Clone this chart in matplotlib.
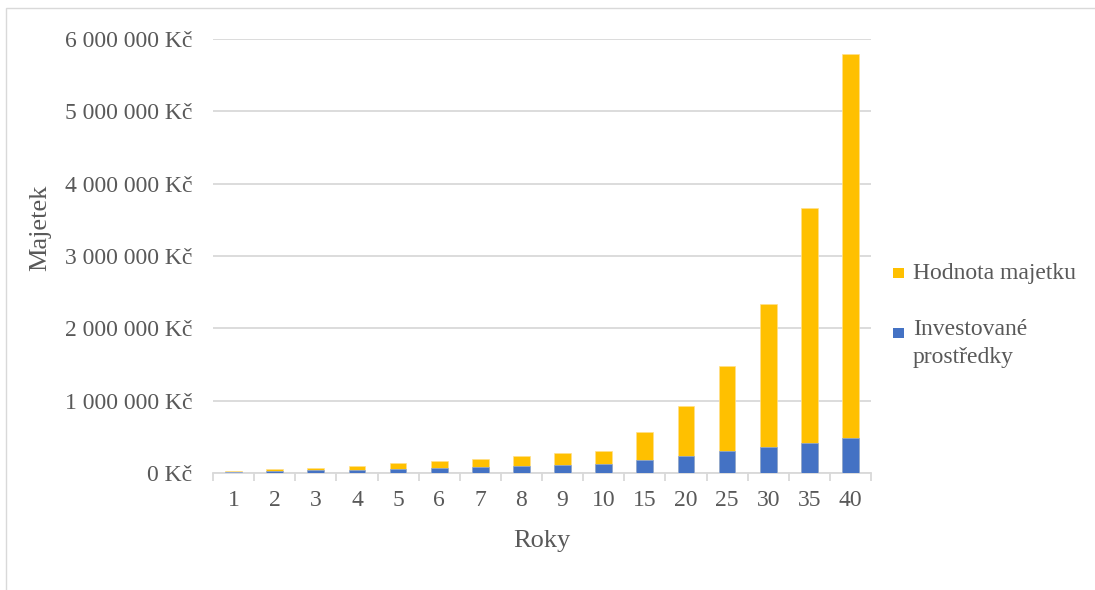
import matplotlib
matplotlib.use("Agg")
import matplotlib.pyplot as plt
from matplotlib.patches import Rectangle
from matplotlib.ticker import FuncFormatter, FixedLocator
import numpy as np

years = ["1", "2", "3", "4", "5", "6", "7", "8", "9", "10",
         "15", "20", "25", "30", "35", "40"]
hodnota_majetku = [25000, 50000, 73000, 97000, 134000, 166000, 194000, 235000,
                   270000, 304000, 563000, 926000, 1480000, 2330000, 3660000, 5790000]
investovane = [12000, 24000, 36000, 48000, 60000, 72000, 84000, 96000,
               108000, 120000, 180000, 240000, 300000, 360000, 420000, 480000]

series_names = ["Hodnota majetku", "Investované\nprostředky"]
series_colors = ["#FFC000", "#4472C4"]

plt.rcParams['font.family'] = ['Liberation Serif', 'DejaVu Serif']
text_color = "#595959"
grid_color = "#d9d9d9"

W, H = 1095, 590
fig = plt.figure(figsize=(W / 100, H / 100), dpi=100)
ax = fig.add_axes([213 / W, 117 / H, 658 / W, 434 / H])

# outer chart frame
fig.patches.append(Rectangle((6 / W, -0.1), 1.2, (H - 8) / H + 0.1,
                             transform=fig.transFigure, fill=False,
                             edgecolor="#d9d9d9", linewidth=1.0, zorder=0))

x = np.arange(len(years))
w = 0.405
ax.bar(x, hodnota_majetku, width=w, color=series_colors[0], edgecolor="#ffe08a",
       linewidth=0.5, zorder=2)
ax.bar(x, investovane, width=w, color=series_colors[1], edgecolor="#8faadc",
       linewidth=0.5, zorder=3)

ax.set_xlim(-0.5, len(years) - 0.5)
ax.set_ylim(0, 6000000)
ax.set_yticks(np.arange(0, 6000001, 1000000))
ax.yaxis.set_major_formatter(FuncFormatter(
    lambda v, p: f"{int(v):,}".replace(",", " ") + " Kč"))
ax.grid(axis="y", color=grid_color, linewidth=1.3, zorder=0)
ax.set_axisbelow(True)

for s in ["top", "right", "left"]:
    ax.spines[s].set_visible(False)
ax.spines["bottom"].set_color(grid_color)
ax.spines["bottom"].set_linewidth(1.3)

ax.set_xticks(x)
ax.set_xticklabels(years)
ax.xaxis.set_minor_locator(FixedLocator(np.arange(-0.5, len(years), 1.0)))
ax.tick_params(axis="x", which="major", length=0, pad=12,
               labelsize=17, labelcolor=text_color)
ax.tick_params(axis="x", which="minor", length=6, width=1.3, color=grid_color)
ax.tick_params(axis="y", length=0, pad=15, labelsize=17, labelcolor=text_color)

ax.set_xlabel("Roky", fontsize=19, color=text_color)
ax.set_ylabel("Majetek", fontsize=19, color=text_color)
ax.xaxis.set_label_coords(0.5, -(541 - 473) / 434, transform=ax.transAxes)
ax.yaxis.set_label_coords(-(213 - 40) / 658, (473 - 228) / 434, transform=ax.transAxes)
ax.xaxis.label.set_va("center")
ax.yaxis.label.set_va("center")

# legend drawn as squares with labels
legend_rows = [(273, 273, "center"), (333, 319, "top")]
for name, color, (ysq, ytxt, va) in zip(series_names, series_colors, legend_rows):
    fig.patches.append(Rectangle((893 / W, (H - ysq - 5) / H), 11 / W, 10 / H,
                                 transform=fig.transFigure, facecolor=color,
                                 edgecolor="none"))
    fig.text(913 / W, (H - ytxt) / H, name, fontsize=17, color=text_color,
             ha="left", va=va, linespacing=1.45,
             transform=fig.transFigure)

fig.savefig("out.png", dpi=100)
